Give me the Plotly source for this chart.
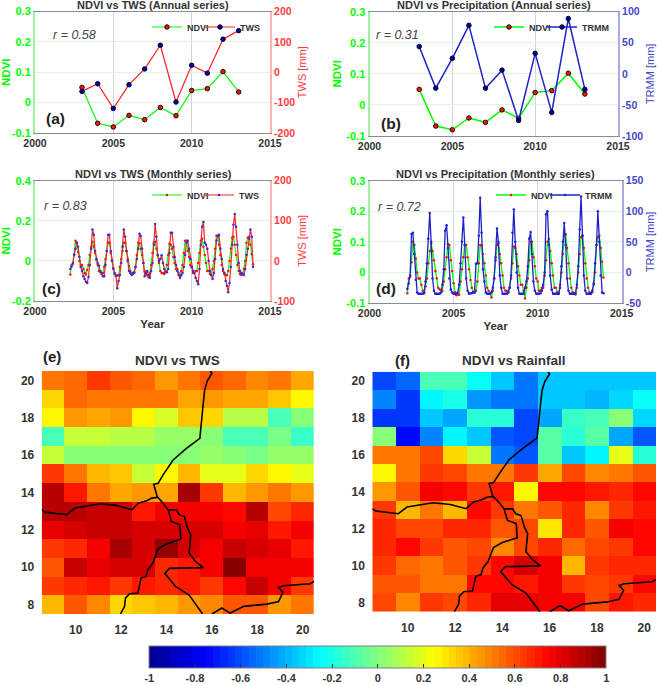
import numpy as np
import plotly.graph_objects as go

W = 657
H = 685

years = list(range(2003, 2014))
ndvi_annual = [0.05, -0.068, -0.08, -0.042, -0.056, -0.016, -0.043, 0.04, 0.046, 0.102, 0.035]
tws_annual = [-63, -38, -119, -41, 11, 89, -98, 23, -3, 109, 137]
trmm_annual = [44, -23, 25, 78, -23, 6, -75, 33, -62, 89, -25]

# monthly, April 2002 to December 2013
months = 2002.25 + np.arange(141) / 12
ndvi_monthly = [
    -0.068, -0.02, -0.015, 0.033, 0.1, 0.09, 0.045, 0.0, -0.02,
    -0.02, -0.04, -0.06, -0.068, -0.045, -0.02, 0.03, 0.07, 0.095, 0.07, 0.04, 0.005,
    -0.02, -0.05, -0.055, -0.065, -0.06, -0.03, 0.01, 0.05, 0.092, 0.09, 0.04, 0.005,
    -0.035, -0.065, -0.075, -0.072, -0.073, -0.03, 0.01, 0.05, 0.09, 0.09, 0.05, 0.01,
    -0.025, -0.05, -0.065, -0.065, -0.06, -0.03, 0.03, 0.09, 0.088, 0.06, 0.03, -0.01,
    -0.05, -0.06, -0.07, -0.082, -0.06, -0.02, 0.04, 0.09, 0.095, 0.06, 0.03, -0.01,
    -0.05, -0.06, -0.06, -0.065, -0.05, -0.02, 0.03, 0.085, 0.08, 0.06, 0.02, -0.01,
    -0.04, -0.04, -0.06, -0.085, -0.05, -0.02, 0.04, 0.1, 0.1, 0.05, 0.02, -0.02,
    -0.03, -0.06, -0.06, -0.05, -0.05, -0.01, 0.04, 0.1, 0.11, 0.07, 0.03, -0.01,
    -0.05, -0.05, -0.065, -0.07, -0.04, 0.0, 0.06, 0.125, 0.125, 0.08, 0.03, -0.02,
    -0.05, -0.065, -0.07, -0.072, -0.05, 0.0, 0.06, 0.115, 0.12, 0.08, 0.03, -0.02,
    -0.05, -0.065, -0.07, -0.065, -0.04, 0.0, 0.09, 0.115, 0.12, 0.08, 0.035, -0.017,
]
tws_monthly = [
    -20, -14, -5, 15, 30, 45, 35, 10, -15,
    -25, -38, -45, -52, -55, -40, -10, 30, 78, 65, 25, 5,
    -5, -12, -25, -30, -38, -38, -10, 25, 65, 65, 25, 0,
    -20, -30, -37, -68, -50, -35, -5, 35, 78, 60, 25, 0,
    -25, -30, -35, -30, -28, -15, 5, 30, 68, 62, 30, -5,
    -38, -30, -25, -35, -42, -25, -5, 40, 92, 60, 15, 0,
    5, 14, -5, -20, -28, -28, -20, 20, 70, 70, 35, 10,
    -10, -25, -35, -40, -36, -30, -15, 15, 45, 50, 30, 5,
    -15, -25, -30, -42, -50, -58, -20, 40, 85, 97, 45, 40,
    30, 0, -25, -35, -45, -30, 5, 50, 62, 65, 30, 5,
    -20, -30, -50, -62, -78, -55, -15, 40, 90, 117, 85, 40,
    -5, -25, -30, -32, -35, -20, 15, 30, 55, 78, 60, -15,
]
trmm_monthly = [
    -27, -18, -5, 63, 65, 30, -12, -33, -35,
    -35, -35, -35, -33, -15, 15, 55, 97, 50, -10, -30, -35,
    -35, -35, -35, -33, -20, 5, 68, 77, 40, -10, -28, -33,
    -35, -35, -35, -33, -20, 15, 50, 90, 45, -10, -30, -35,
    -34, -34, -32, -33, 14, 15, 60, 122, 65, 5, -15, -33,
    -35, -35, -35, -33, -25, -10, 25, 72, 50, -5, -25, -35,
    -35, -35, -35, -33, -25, -5, 65, 103, 50, 0, -25, -35,
    -35, -35, -35, -25, -15, 10, 55, 66, 30, -15, -30, -35,
    -35, -35, -34, -30, -20, 0, 95, 100, 45, -5, -28, -35,
    -35, -35, -35, -35, -25, 10, 50, 81, 45, -10, -30, -35,
    -35, -35, -35, -34, -20, 10, 70, 124, 60, -5, -30, -35,
    -35, -35, -35, -30, -18, 15, 45, 100, 50, -5, -33, -34,
]

lons = list(range(9, 21))
lats = list(range(20, 7, -1))
corr_tws = [
    [0.5, 0.56, 0.63, 0.57, 0.54, 0.46, 0.53, 0.58, 0.56, 0.47, 0.5, 0.43],
    [0.33, 0.55, 0.5, 0.5, 0.5, 0.5, 0.42, 0.44, 0.41, 0.41, 0.37, 0.25],
    [0.25, 0.45, 0.41, 0.45, 0.25, 0.17, 0.36, 0.33, 0.1, 0.1, -0.1, 0.03],
    [-0.1, 0.15, 0.15, 0.1, 0.12, 0.05, 0.06, 0.03, -0.12, -0.12, -0.03, -0.14],
    [0.15, 0.03, 0.03, 0.0, 0.03, 0.01, 0.02, 0.04, 0.02, -0.02, 0.05, 0.05],
    [0.63, 0.5, 0.4, 0.36, 0.15, 0.27, 0.38, 0.2, 0.2, 0.32, 0.25, 0.2],
    [0.88, 0.7, 0.5, 0.43, 0.46, 0.42, 0.92, 0.63, 0.38, 0.45, 0.5, 0.44],
    [0.88, 0.88, 0.85, 0.85, 0.7, 0.75, 0.75, 0.76, 0.72, 0.88, 0.62, 0.68],
    [0.8, 0.84, 0.86, 0.87, 0.82, 0.83, 0.83, 0.83, 0.77, 0.8, 0.7, 0.76],
    [0.63, 0.68, 0.78, 0.93, 0.82, 0.95, 0.84, 0.77, 0.86, 0.82, 0.8, 0.7],
    [0.57, 0.85, 0.8, 0.84, 0.84, 0.67, 0.7, 0.76, 0.98, 0.76, 0.76, 0.76],
    [0.65, 0.66, 0.7, 0.64, 0.7, 0.66, 0.7, 0.63, 0.73, 0.85, 0.76, 0.65],
    [0.38, 0.57, 0.47, 0.33, 0.37, 0.38, 0.44, 0.47, 0.58, 0.57, 0.46, 0.53],
]
corr_rain = [
    [-0.6, -0.55, -0.12, -0.12, -0.24, -0.37, -0.52, -0.37, -0.37, -0.37, -0.35, -0.35],
    [-0.47, -0.65, -0.26, -0.2, -0.45, -0.52, -0.52, -0.37, -0.37, -0.4, -0.33, -0.25],
    [-0.65, -0.65, -0.36, -0.42, -0.17, -0.17, -0.62, -0.42, -0.13, -0.12, 0.03, -0.32],
    [0.03, -0.73, -0.47, -0.26, -0.35, -0.57, -0.62, -0.08, -0.18, -0.08, -0.42, -0.58],
    [0.5, 0.5, 0.62, 0.33, 0.15, -0.53, -0.57, -0.08, -0.37, -0.26, 0.2, -0.18],
    [0.26, 0.5, 0.65, 0.6, 0.5, 0.5, 0.63, 0.42, 0.6, 0.48, 0.5, 0.57],
    [0.45, 0.58, 0.75, 0.72, 0.65, 0.71, 0.28, 0.72, 0.72, 0.7, 0.66, 0.72],
    [0.63, 0.38, 0.5, 0.4, 0.74, 0.63, 0.52, 0.58, 0.66, 0.47, 0.64, 0.7],
    [0.66, 0.62, 0.62, 0.66, 0.66, 0.58, 0.6, 0.3, 0.67, 0.58, 0.76, 0.72],
    [0.68, 0.74, 0.65, 0.58, 0.62, 0.48, 0.6, 0.68, 0.55, 0.6, 0.65, 0.72],
    [0.64, 0.54, 0.5, 0.58, 0.65, 0.72, 0.83, 0.75, 0.4, 0.63, 0.68, 0.66],
    [0.57, 0.57, 0.5, 0.52, 0.72, 0.72, 0.7, 0.75, 0.64, 0.6, 0.64, 0.72],
    [0.6, 0.47, 0.65, 0.62, 0.68, 0.8, 0.8, 0.75, 0.76, 0.62, 0.7, 0.66],
]

# country borders (lon, lat)
border_lon = [
    [15.93, 16.0, 15.8, 15.68, 15.59, 15.47, 14.88, 14.29, 13.85, 13.63, 13.44, 13.59, 13.85, 14.07,
     14.22, 14.59, 14.63, 14.0, 13.62, 13.4, 13.18, 13.1, 12.88, 12.74, 12.37, 12.19, 12.15, 11.97],
    [8.5, 8.65, 9.6, 9.97, 11.07, 11.8, 12.47, 12.76, 13.13, 13.35, 13.6],
    [14.07, 14.43, 14.57, 14.79, 14.93, 15.07, 15.0, 15.29, 15.62, 14.85, 14.12, 13.93, 14.41, 15.0, 15.44, 15.59],
    [16.0, 16.44, 16.81, 17.4, 18.43, 18.94, 19.13, 18.94, 19.16, 20.34, 20.5],
]
border_lat = [
    [20.5, 20.38, 19.98, 19.48, 18.41, 16.9, 16.36, 15.74, 14.94, 14.49, 14.44, 13.78, 13.43, 13.07,
     12.45, 12.27, 11.5, 11.25, 10.97, 10.22, 9.87, 9.51, 9.42, 8.62, 8.58, 8.35, 7.9, 7.5],
    [13.08, 12.95, 12.81, 13.17, 13.4, 13.31, 13.08, 13.43, 13.56, 13.7, 13.74],
    [13.07, 13.07, 12.8, 12.71, 12.09, 11.73, 10.75, 10.3, 9.98, 9.98, 9.94, 9.67, 8.96, 8.51, 7.71, 7.5],
    [7.5, 7.82, 7.55, 7.91, 8.03, 8.17, 8.67, 8.92, 9.01, 9.12, 9.25],
]

font_name = 'Liberation Sans'
GREEN = '#00ff00'
RED = '#ff3c3c'
BLUE = '#4646c8'
DARK = '#333333'
CLEAR = 'rgba(0,0,0,0)'


def px_x(x):
    return x / W


def px_y(y):
    return 1 - y / H


def jet_steps(n=64):
    # matlab style jet cut into n flat steps
    stops = [0, 0.125, 0.375, 0.625, 0.875, 1]
    reds = [0, 0, 0, 255, 255, 128]
    greens = [0, 0, 255, 255, 0, 0]
    blues = [143, 255, 255, 0, 0, 0]
    scale = []
    for i in range(n):
        t = (i + 0.5) / n
        c = 'rgb(%d,%d,%d)' % (np.interp(t, stops, reds), np.interp(t, stops, greens), np.interp(t, stops, blues))
        scale.append([i / n, c])
        scale.append([(i + 1) / n, c])
    return scale


fig = go.Figure()
layout = dict(
    width=W, height=H,
    margin=dict(l=0, r=0, t=0, b=0, autoexpand=False),
    paper_bgcolor='white', plot_bgcolor='white',
    font=dict(family=font_name, color=DARK),
    showlegend=True,
)
annotations = []


def text_at(x, y, text, size, color=DARK, bold=True, italic=False):
    if bold:
        text = '<b>' + text + '</b>'
    if italic:
        text = '<i>' + text + '</i>'
    annotations.append(dict(
        x=px_x(x), y=px_y(y), xref='paper', yref='paper', text=text, showarrow=False,
        xanchor='center', yanchor='middle', font=dict(size=size, color=color, family=font_name),
    ))


def add_legend(name, x, y):
    layout[name] = dict(
        x=px_x(x), y=px_y(y), xanchor='left', yanchor='middle',
        orientation='h', bgcolor=CLEAR, borderwidth=0,
        font=dict(size=9, color=DARK, family=font_name, weight='bold'),
        itemwidth=30,
    )


def line_panel(n, box, title, title_pos, r_text, r_pos, tag, tag_pos,
               x1, y1, y2, right_name, right_title, right_color, line_color, marker_color,
               yticks, ytext, rticks, rtext, msize, mline, lwidth, xtitle, legend_pos):
    x0, x_end, y_top, y_bot = box
    xa, ya, yb = 'x%d' % n, 'y%d' % (2 * n - 1), 'y%d' % (2 * n)
    # one legend per series, so both entries can sit where they do in the picture
    legend_a, legend_b = 'legend%d' % (2 * n - 1), 'legend%d' % (2 * n)
    if legend_a == 'legend1':
        legend_a = 'legend'
    fig.add_trace(go.Scatter(
        x=x1, y=y1, name='NDVI', mode='lines+markers', xaxis=xa, yaxis=ya, legend=legend_a,
        line=dict(color=GREEN, width=lwidth),
        marker=dict(color='#ff1010', size=msize, line=dict(color='#200000', width=mline)),
    ))
    fig.add_trace(go.Scatter(
        x=x1, y=y2, name=right_name, mode='lines+markers', xaxis=xa, yaxis=yb, legend=legend_b,
        line=dict(color=line_color, width=lwidth),
        marker=dict(color=marker_color, size=msize, line=dict(color='#000030', width=mline)),
    ))
    layout['xaxis%d' % n] = dict(
        domain=[px_x(x0), px_x(x_end)], anchor=ya, range=[2000, 2015],
        tickvals=[2000, 2005, 2010, 2015], ticktext=['2000', '2005', '2010', '2015'],
        tickfont=dict(size=10.5, color=DARK, family=font_name, weight='bold'),
        ticks='', showgrid=True, gridcolor='#d4d4dc', gridwidth=1, zeroline=False,
        showline=True, linecolor='#8a8a99', linewidth=1, mirror=True,
        title=dict(text='<b>Year</b>' if xtitle else '', font=dict(size=11.5, color=DARK), standoff=4),
    )
    layout['yaxis%d' % (2 * n - 1)] = dict(
        domain=[px_y(y_bot), px_y(y_top)], anchor=xa, range=[yticks[0], yticks[-1]],
        tickvals=yticks, ticktext=ytext, ticks='',
        tickfont=dict(size=11, color=GREEN, family=font_name, weight='bold'),
        showgrid=True, gridcolor='#dcf8dc', gridwidth=1, zeroline=False,
        showline=True, linecolor='#a0f0a0', linewidth=2,
        title=dict(text='<b>NDVI</b>', font=dict(size=11.5, color=GREEN), standoff=2),
    )
    layout['yaxis%d' % (2 * n)] = dict(
        domain=[px_y(y_bot), px_y(y_top)], anchor=xa, overlaying=ya, side='right',
        range=[rticks[0], rticks[-1]], tickvals=rticks, ticktext=rtext, ticks='',
        tickfont=dict(size=10.5, color=right_color, family=font_name, weight='bold'),
        showgrid=False, zeroline=False, showline=True,
        linecolor='#ffb4b4' if right_color == RED else '#aaaae6', linewidth=2,
        title=dict(text=right_title, font=dict(size=11, color=right_color), standoff=4),
    )
    add_legend(legend_a, legend_pos[0], legend_pos[2])
    add_legend(legend_b, legend_pos[1], legend_pos[2])
    text_at(title_pos[0], title_pos[1], title, 11)
    text_at(r_pos[0], r_pos[1], r_text, 12.5, color='#444444', bold=False, italic=True)
    text_at(tag_pos[0], tag_pos[1], tag, 15.5, color='#222222')


left_a = [-0.1, 0, 0.1, 0.2, 0.3]
left_a_text = ['-0.1', '0', '0.1', '0.2', '0.3']

line_panel(1, (35, 270, 11.5, 133), 'NDVI vs TWS (Annual series)', (153, 5), 'r = 0.58', (74, 35),
           '(a)', (55, 119), years, ndvi_annual, tws_annual, 'TWS', 'TWS [mm]', RED, '#ff2020', '#0000a0',
           left_a, left_a_text, [-200, -100, 0, 100, 200], ['-200', '-100', '0', '100', '200'],
           4.5, 1, 1.2, False, (147, 200, 27))
line_panel(2, (369.5, 618, 11.7, 136), 'NDVI vs Precipitation (Annual series)', (494, 5), 'r = 0.31', (397, 35),
           '(b)', (391, 123), years, ndvi_annual, trmm_annual, 'TRMM', 'TRMM [mm]', BLUE, '#2020c8', '#000090',
           left_a, left_a_text, [-100, -50, 0, 50, 100], ['-100', '-50', '0', '50', '100'],
           4.5, 1, 1.5, False, (489, 542, 27))
line_panel(3, (35, 270, 180.7, 301), 'NDVI vs TWS (Monthly series)', (153, 174), 'r = 0.83', (65, 206),
           '(c)', (51, 288), months, ndvi_monthly, tws_monthly, 'TWS', 'TWS [mm]', RED, '#ff2020', '#3030e0',
           [-0.2, 0, 0.2, 0.4], ['-0.2', '0', '0.2', '0.4'], [-100, 0, 100, 200], ['-100', '0', '100', '200'],
           2.5, 0, 1.2, True, (147, 199, 195))
line_panel(4, (369.5, 621.7, 180.7, 303), 'NDVI vs Precipitation (Monthly series)', (495, 174), 'r = 0.72', (399, 207),
           '(d)', (386, 288), months, ndvi_monthly, trmm_monthly, 'TRMM', 'TRMM [mm]', BLUE, '#2020c8', '#2020e0',
           left_a, left_a_text, [-50, 0, 50, 100, 150], ['-50', '0', '50', '100', '150'],
           2.5, 0, 1.3, True, (491, 545, 195))


def map_panel(n, box, z, title, title_pos, tag, tag_pos, show_scale):
    x0, x_end, y_top, y_bot = box
    xa, ya = 'x%d' % n, 'y%d' % (n + 4)
    colorbar = dict(
        orientation='h', x=px_x(149.3), xanchor='left', y=px_y(646), yanchor='top',
        len=(606.7 - 149.3) / W, lenmode='fraction', thickness=21.7, thicknessmode='pixels',
        xpad=0, ypad=0, outlinecolor='#808080', outlinewidth=1,
        tickvals=[-1, -0.8, -0.6, -0.4, -0.2, 0, 0.2, 0.4, 0.6, 0.8, 1],
        ticktext=['-1', '-0.8', '-0.6', '-0.4', '-0.2', '0', '0.2', '0.4', '0.6', '0.8', '1'],
        ticks='inside', ticklen=4, tickcolor='#333333', tickwidth=1,
        tickfont=dict(size=11, color=DARK, family=font_name, weight='bold'),
    )
    fig.add_trace(go.Heatmap(
        x=lons, y=lats, z=z, zmin=-1, zmax=1, colorscale=jet_steps(), xaxis=xa, yaxis=ya,
        showscale=show_scale, colorbar=colorbar, showlegend=False,
    ))
    for lon, lat in zip(border_lon, border_lat):
        fig.add_trace(go.Scatter(
            x=lon, y=lat, mode='lines', xaxis=xa, yaxis=ya, showlegend=False,
            line=dict(color='black', width=1.6),
        ))
    ticks = [10, 12, 14, 16, 18, 20]
    layout['xaxis%d' % n] = dict(
        domain=[px_x(x0), px_x(x_end)], anchor=ya, range=[8.5, 20.5], tickvals=ticks,
        ticktext=[str(t) for t in ticks], ticks='outside', ticklen=5, tickcolor=CLEAR,
        showgrid=False, zeroline=False, showline=False,
        tickfont=dict(size=12, color=DARK, family=font_name, weight='bold'),
    )
    layout['yaxis%d' % (n + 4)] = dict(
        domain=[px_y(y_bot), px_y(y_top)], anchor=xa, range=[7.5, 20.5], tickvals=ticks[::-1] + [8],
        ticktext=[str(t) for t in ticks[::-1]] + ['8'], ticks='outside', ticklen=4, tickcolor=CLEAR,
        showgrid=False, zeroline=False, showline=False,
        tickfont=dict(size=12, color=DARK, family=font_name, weight='bold'),
    )
    text_at(title_pos[0], title_pos[1], title, 13.5)
    text_at(tag_pos[0], tag_pos[1], tag, 15, color='#222222')


map_panel(5, (41.7, 314, 371, 614), corr_tws, 'NDVI vs TWS', (177, 361), '(e)', (52, 356), True)
map_panel(6, (372.3, 656, 371.7, 611.7), corr_rain, 'NDVI vs Rainfall', (514, 361), '(f)', (402, 360), False)

layout['annotations'] = annotations
fig.update_layout(**layout)

# page has a default body margin, drop it so the figure fills the window
fig.write_html("out.html", config=dict(displayModeBar=False), post_script="document.body.style.margin='0';")
